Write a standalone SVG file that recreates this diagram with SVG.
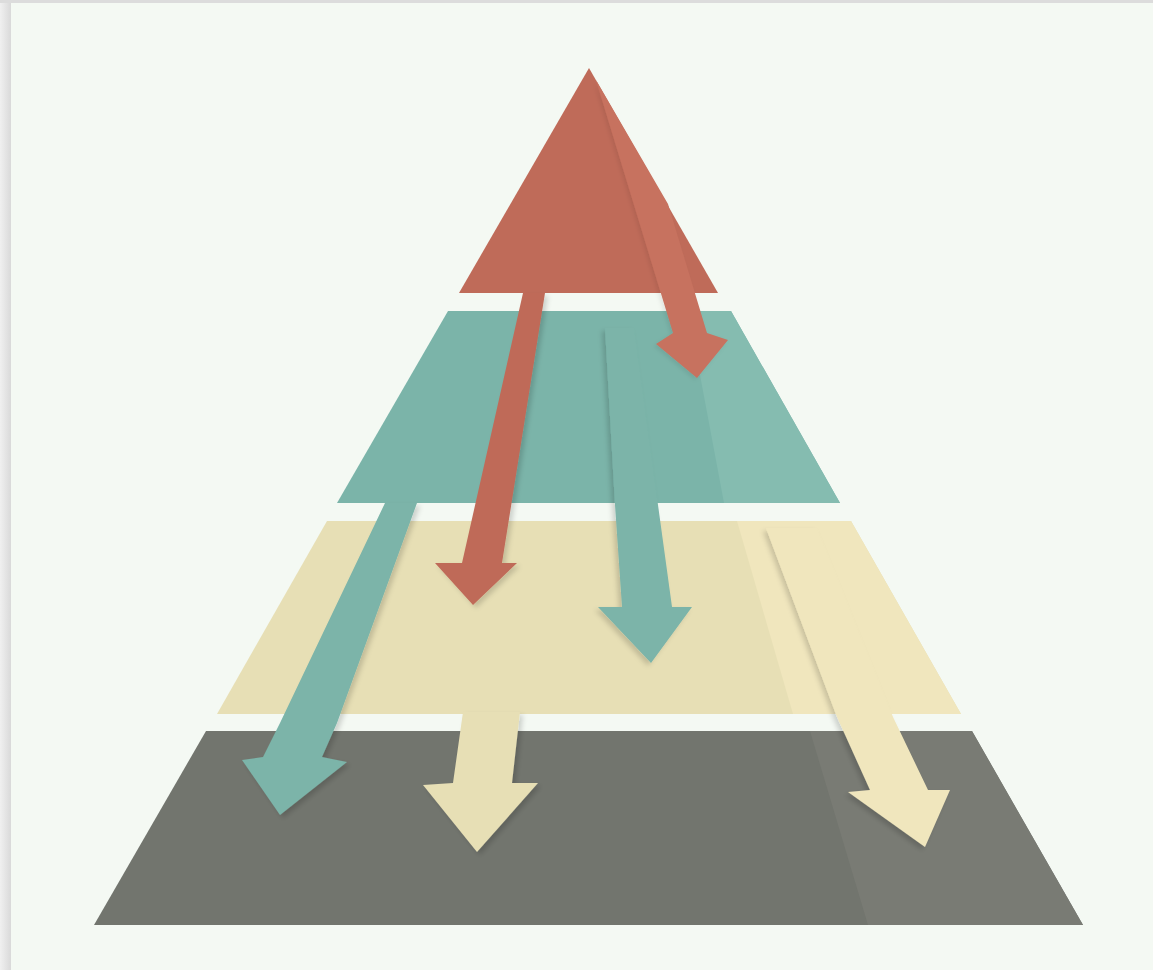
<svg xmlns="http://www.w3.org/2000/svg" width="1153" height="970" viewBox="0 0 1153 970">
  <defs>
    <linearGradient id="edge" x1="0" y1="0" x2="1" y2="0">
      <stop offset="0" stop-color="#f0f0f0"/>
      <stop offset="1" stop-color="#d9d9d9"/>
    </linearGradient>
    <filter id="shL" x="-20%" y="-20%" width="140%" height="140%">
      <feDropShadow dx="-3" dy="3" stdDeviation="2.5" flood-color="#000" flood-opacity="0.16"/>
    </filter>
    <filter id="shR" x="-20%" y="-20%" width="140%" height="140%">
      <feDropShadow dx="3" dy="3" stdDeviation="2.5" flood-color="#000" flood-opacity="0.16"/>
    </filter>
    <filter id="shSoft" x="-20%" y="-20%" width="140%" height="140%">
      <feDropShadow dx="-2" dy="2" stdDeviation="2" flood-color="#000" flood-opacity="0.08"/>
    </filter>
  </defs>
  <style>
    .red{fill:#bf6b59}
    .redL{fill:#c7725f}
    .teal{fill:#7bb4a9}
    .tealL{fill:#85bcb0}
    .yel{fill:#e7dfb5}
    .yelL{fill:#f0e6bd}
    .gray{fill:#72756e}
    .grayL{fill:#797b74}
  </style>

  <rect x="0" y="0" width="1153" height="970" fill="#dcdcdc"/>
  <rect x="0" y="3" width="11" height="967" fill="url(#edge)"/>
  <rect x="11" y="3" width="1142" height="967" fill="#f4f9f3"/>

  <g id="level-top">
    <polygon class="red" points="589,68 718,293 459,293"/>
  </g>
  <g id="level-2">
    <polygon class="teal" points="448,311 731,311 840,503 337,503"/>
    <polygon class="tealL" points="688,311 731,311 840,503 724,503"/>
  </g>
  <g id="level-3">
    <polygon class="yel" points="327,521 851,521 961,714 217,714"/>
    <polygon class="yelL" points="737,521 851,521 961,714 793,714"/>
  </g>
  <g id="level-4">
    <polygon class="gray" points="206,731 972,731 1083,925 94,925"/>
    <polygon class="grayL" points="810,731 972,731 1083,925 868,925"/>
  </g>

  <g id="connectors">
    <!-- yellow arrows -->
    <polygon class="yel" filter="url(#shR)" points="463,712 520,712 512,783 538,783 477,852 423,785 453,783"/>
    <polygon class="yelL" filter="url(#shL)" points="766,528 817,528 893,717 928,790 950,790 925,847 848,792 870,790 837,717"/>
    <!-- teal arrows -->
    <polygon class="teal" filter="url(#shR)" points="385,503 417,503 337,723 322,757 347,762 280,815 242,760 263,757 280,723"/>
    <polygon class="teal" filter="url(#shL)" points="605,328 634,328 658,505 672,607 692,607 651,663 598,607 622,607 615,505"/>
    <!-- red arrows -->
    <polygon class="red" filter="url(#shR)" points="523,293 545,293 502,563 517,563 473,605 435,563 462,563"/>
    <polygon class="redL" filter="url(#shSoft)" points="596,80 673,333 656,344 697,378 728,340 707,333 668,204"/>
  </g>
</svg>
